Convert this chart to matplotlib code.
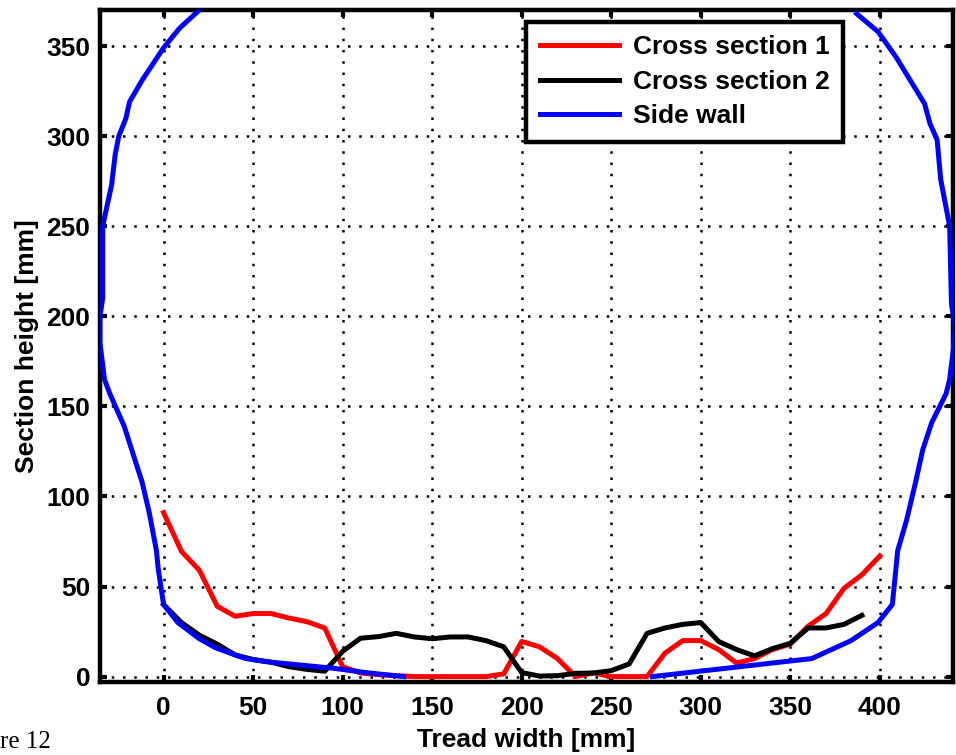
"""
Tire cross-section profiles: two tread cross sections plotted against the side wall outline.
"""

import matplotlib
matplotlib.use('Agg')
import matplotlib.pyplot as plt

# Tread width positions for the cross sections [mm]
tread_x = [0, 10, 20, 30, 40, 50, 60, 70, 80, 90, 100, 110, 120, 130, 140, 150, 160, 170, 180, 190,
           200, 210, 220, 230, 240, 250, 260, 270, 280, 290, 300, 310, 320, 330, 340, 350, 360, 370,
           380, 390, 400]

# Section height of cross section 1 [mm]
section1_y = [91, 69.5, 59, 39, 33.5, 35, 35, 32.5, 30.5, 27, 5.5, 2, 1, 0.5, 0, 0, 0, 0, 0, 1.5,
              19.5, 16.5, 10, 0, 2, 0, 0, 0, 13, 20, 20, 15, 7.5, 10, 15, 18, 28, 35, 49, 56.5, 67]

# Section height of cross section 2 [mm] (measured up to 390 mm)
section2_y = [40, 30, 23, 18, 12, 9.5, 8, 5.5, 4, 3, 14, 21.3, 22.2, 24, 22, 21, 22, 22, 20, 16.5,
              2.2, 0.3, 0.5, 1.8, 2, 3.3, 7, 24, 27, 29, 30, 19.5, 15, 11.5, 15.5, 18.5, 27, 27, 29, 34]

# Side wall outline, left half
wall_left_x = [20, 9, 0, -6, -12, -19, -21, -25, -27, -29, -34, -34, -35.5, -35.5, -33, -30, -22,
               -12, -8, -4, -3, 0, 8, 20, 29, 40, 46, 57, 95, 113, 134]
wall_left_y = [370, 360, 349, 340, 331, 319, 310, 300, 290, 273, 250, 210, 200, 185, 165, 157, 139,
               108, 91, 70, 60, 40, 30, 21, 16, 12, 10, 8.3, 4.6, 2.2, 0]

# Side wall outline, right half
wall_right_x = [273, 362, 373, 384, 399, 407, 408, 410, 415, 420, 424, 429, 437, 439, 441, 442, 440,
                439, 434, 432, 428, 425, 409, 399, 387]
wall_right_y = [0, 10, 15, 20, 30, 40, 50, 70, 87, 108, 126, 141, 157, 165, 181, 194, 207, 250,
                276, 298, 307, 318, 344, 358, 368]

x_ticks = [0, 50, 100, 150, 200, 250, 300, 350, 400]
y_ticks = [0, 50, 100, 150, 200, 250, 300, 350]

plt.rcParams['font.family'] = ['Liberation Sans', 'DejaVu Sans']
plt.rcParams['font.weight'] = 'bold'

fig = plt.figure(figsize=(9.56, 7.55), dpi=100)
ax = fig.add_axes([0.1046, 0.0967, 0.8925, 0.890])

lw = 3.6
ax.plot(tread_x, section1_y, color=(1, 0, 0), linewidth=lw, label='Cross section 1', zorder=3)
ax.plot(tread_x[:len(section2_y)], section2_y, color='black', linewidth=lw,
        label='Cross section 2', zorder=3)
ax.plot(wall_left_x, wall_left_y, color=(0, 0, 1), linewidth=lw, label='Side wall', zorder=4)
ax.plot(wall_right_x, wall_right_y, color=(0, 0, 1), linewidth=lw, zorder=4)

ax.set_xlim(-35.5, 441)
ax.set_ylim(-3, 370)
ax.set_xticks(x_ticks)
ax.set_yticks(y_ticks)

ax.grid(True, color='black', linestyle=(0, (1, 3.5)), linewidth=1.8)
ax.set_axisbelow(True)

for spine in ax.spines.values():
    spine.set_linewidth(3.2)

ax.tick_params(direction='in', length=5, width=3, top=True, right=True, labelsize=19)
ax.tick_params(axis='x', pad=10)
ax.tick_params(axis='y', pad=7)
for label in ax.get_xticklabels() + ax.get_yticklabels():
    label.set_fontweight('bold')

ax.set_xlabel('Tread width [mm]', fontsize=19, fontweight='bold', labelpad=6)
ax.set_ylabel('Section height [mm]', fontsize=19, fontweight='bold', labelpad=5)

legend = ax.legend(loc='upper right', bbox_to_anchor=(0.871, 0.982), borderaxespad=0,
                   fancybox=False, framealpha=1, edgecolor='black',
                   prop={'size': 19, 'weight': 'bold'},
                   handlelength=3.0, handletextpad=0.55, labelspacing=0.4,
                   borderpad=0.5)
legend.get_frame().set_linewidth(3.2)

# Figure caption, trimmed at the left edge of the page
fig.text(0.0, 7 / 755, 're 12', ha='left', va='baseline',
         fontsize=18, fontweight='normal', family='Liberation Serif')

fig.savefig('out.png', dpi=100)
